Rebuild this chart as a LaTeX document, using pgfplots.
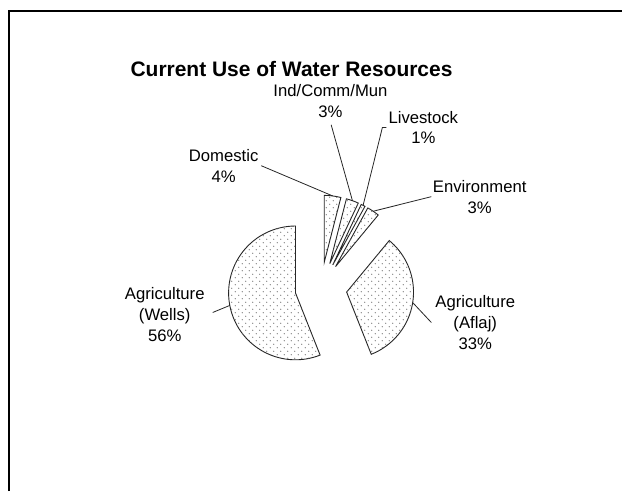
\documentclass[border=0pt]{standalone}
\usepackage{fontspec}
\setmainfont{Liberation Sans}
\usepackage{pgfplots}
\pgfplotsset{compat=1.18}
\usetikzlibrary{patterns}

% light dot fill used for every slice
\pgfdeclarepatternformonly{sparse dots}{\pgfpointorigin}{\pgfpoint{7pt}{7pt}}{\pgfpoint{7pt}{7pt}}{%
  \pgfpathcircle{\pgfpoint{1.75pt}{1.75pt}}{0.6pt}%
  \pgfpathcircle{\pgfpoint{5.25pt}{5.25pt}}{0.6pt}%
  \pgfusepath{fill}%
}

% shares of current water use, in percent
\def\vDom{4}
\def\vInd{3}
\def\vLiv{1}
\def\vEnv{3}
\def\vAfl{33}
\def\vWel{56}

% pie geometry in axis units (1 unit = 1pt)
\def\cx{321.5}
\def\cy{203.5}
\def\R{67}
\def\ex{26}
\def\rr{93}

% one exploded slice: #1 start angle, #2 end angle (clockwise), #3 name of arc midpoint
\newcommand\pieslice[3]{%
  \filldraw[draw=black!85, line width=0.9pt, fill=white,
            postaction={pattern=sparse dots, pattern color=black!55}]
    ([shift={({(#1+#2)/2}:\ex pt)}]axis cs:\cx,\cy) -- ++(#1:\R pt)
      arc[start angle=#1, end angle=#2, radius=\R pt] -- cycle;
  \path ([shift={({(#1+#2)/2}:\rr pt)}]axis cs:\cx,\cy) coordinate (#3);
}

\newcommand\lbl{\fontsize{16.7}{21}\selectfont}

\begin{document}
\begin{tikzpicture}
% slice boundaries, clockwise from twelve o'clock
\pgfmathsetmacro\tA{90}
\pgfmathsetmacro\tB{\tA-3.6*\vDom}
\pgfmathsetmacro\tC{\tB-3.6*\vInd}
\pgfmathsetmacro\tD{\tC-3.6*\vLiv}
\pgfmathsetmacro\tE{\tD-3.6*\vEnv}
\pgfmathsetmacro\tF{\tE-3.6*\vAfl}
\pgfmathsetmacro\tG{\tF-3.6*\vWel}
\begin{axis}[
  x=1pt, y=1pt,
  xmin=0, xmax=623, ymin=0, ymax=492,
  scale only axis, hide axis, clip=false,
]
\path (axis cs:0,0) rectangle (axis cs:623,492);

% frame
\draw[line width=2pt, black] (axis cs:9.5,0) -- (axis cs:9.5,480.5) -- (axis cs:623,480.5);

% title
\node[font=\bfseries\fontsize{21}{25}\selectfont] at (axis cs:292,423) {Current Use of Water Resources};

% slices
\pieslice{\tA}{\tB}{mDom}
\pieslice{\tB}{\tC}{mInd}
\pieslice{\tC}{\tD}{mLiv}
\pieslice{\tD}{\tE}{mEnv}
\pieslice{\tE}{\tF}{mAfl}
\pieslice{\tF}{\tG}{mWel}

% leader lines
\draw[black!85, line width=0.8pt] (axis cs:261.7,326) -- (mDom);
\draw[black!85, line width=0.8pt] (axis cs:331.7,367) -- (mInd);
\draw[black!85, line width=0.8pt] (axis cs:387,364.3) -- (axis cs:383,364.3) -- (mLiv);
\draw[black!85, line width=0.8pt] (axis cs:432,295) -- (mEnv);
\draw[black!85, line width=0.8pt] (axis cs:432,169) -- (mAfl);
\draw[black!85, line width=0.8pt] (axis cs:213,179) -- (mWel);

% data labels
\node[align=center, font=\lbl] at (axis cs:331,391) {Ind/Comm/Mun\\\vInd\%};
\node[align=center, font=\lbl] at (axis cs:424,364.3) {Livestock\\\vLiv\%};
\node[align=center, font=\lbl] at (axis cs:224,325.5) {Domestic\\\vDom\%};
\node[align=center, font=\lbl] at (axis cs:480.5,294.7) {Environment\\\vEnv\%};
\node[align=center, font=\lbl] at (axis cs:165,177) {Agriculture\\(Wells)\\\vWel\%};
\node[align=center, font=\lbl] at (axis cs:476,169) {Agriculture\\(Aflaj)\\\vAfl\%};
\end{axis}
\end{tikzpicture}
\end{document}
